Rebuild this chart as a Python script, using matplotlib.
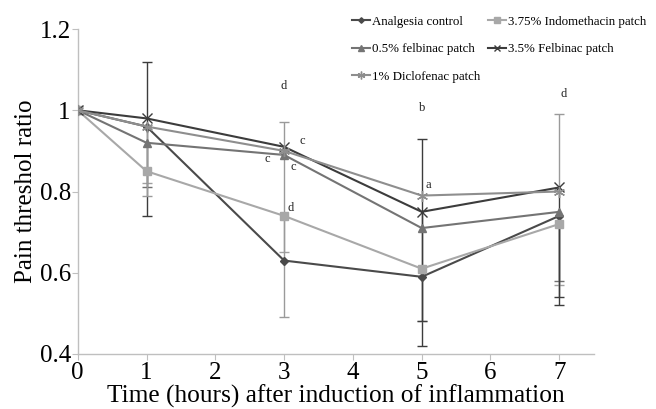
import numpy as np
import matplotlib
matplotlib.use("Agg")
import matplotlib.pyplot as plt

plt.rcParams['font.family'] = ['Liberation Serif', 'DejaVu Serif']

hours = np.array([0, 1, 3, 5, 7])
series_names = ["Analgesia control", "3.75% Indomethacin patch",
                "0.5% felbinac patch", "3.5% Felbinac patch",
                "1% Diclofenac patch"]
analgesia = np.array([1.0, 0.96, 0.63, 0.59, 0.74])
indomethacin = np.array([1.0, 0.85, 0.74, 0.61, 0.72])
felbinac05 = np.array([1.0, 0.92, 0.89, 0.71, 0.75])
felbinac35 = np.array([1.0, 0.98, 0.91, 0.75, 0.81])
diclofenac = np.array([1.0, 0.96, 0.90, 0.79, 0.80])

# error bars (lower, upper)
analgesia_lo = np.array([0, 0.22, 0, 0.17, 0.22])
analgesia_hi = np.array([0, 0.16, 0, 0.34, 0])
indomethacin_lo = np.array([0, 0.03, 0.09, 0.13, 0.15])
indomethacin_hi = np.array([0, 0, 0, 0, 0])
felbinac05_lo = np.array([0, 0.11, 0, 0, 0.17])
felbinac05_hi = np.array([0, 0, 0, 0, 0])
felbinac35_lo = np.array([0, 0, 0, 0.27, 0.27])
felbinac35_hi = np.array([0, 0, 0, 0, 0])
diclofenac_lo = np.array([0, 0.17, 0.41, 0, 0])
diclofenac_hi = np.array([0, 0, 0.07, 0, 0.19])

annot_letters = ["d", "c", "c", "c", "d", "b", "a", "d"]
annot_x = [3.0, 3.27, 2.75, 3.13, 3.1, 5.01, 5.09, 7.07]
annot_y = [1.06, 0.925, 0.88, 0.86, 0.76, 1.005, 0.815, 1.04]

colors = ["#4a4a4a", "#a8a8a8", "#747474", "#3c3c3c", "#8e8e8e"]
markers = ["D", "s", "^", "x", (6, 2, 0)]
msizes = [4, 6, 6, 7, 8]
err_colors = ["#3c3c3c", "#a0a0a0", "#707070", "#3c3c3c", "#9a9a9a"]

data = [analgesia, indomethacin, felbinac05, felbinac35, diclofenac]
los = [analgesia_lo, indomethacin_lo, felbinac05_lo, felbinac35_lo, diclofenac_lo]
his = [analgesia_hi, indomethacin_hi, felbinac05_hi, felbinac35_hi, diclofenac_hi]

fig = plt.figure(figsize=(6.56, 4.09), dpi=100)
ax = fig.add_axes([0.1185, 0.1345, 0.7865, 0.7945])

for y, lo, hi, ec in zip(data, los, his, err_colors):
    m = (lo > 0) | (hi > 0)
    ax.vlines(hours[m], (y - lo)[m], (y + hi)[m], color=ec, lw=1.0, zorder=1)
    ml = lo > 0
    ax.plot(hours[ml], (y - lo)[ml], ls='none', marker='_', ms=7, mew=1.0, color=ec, zorder=1)
    mh = hi > 0
    ax.plot(hours[mh], (y + hi)[mh], ls='none', marker='_', ms=7, mew=1.0, color=ec, zorder=1)

handles = []
for y, name, c, mk, ms in zip(data, series_names, colors, markers, msizes):
    h, = ax.plot(hours, y, color=c, lw=1.5, marker=mk, ms=ms, mew=1.0,
                 mfc=c, mec=c, label=name, zorder=3)
    handles.append(h)

for t, xx, yy in zip(annot_letters, annot_x, annot_y):
    ax.text(xx, yy, t, fontsize=9, ha='center', va='center', color='#222222')

ax.set_xlim(0, 7.5)
ax.set_ylim(0.4, 1.2)
ax.set_xticks(range(0, 8))
ax.set_yticks([0.4, 0.6, 0.8, 1.0, 1.2])
ax.set_yticklabels(["0.4", "0.6", "0.8", "1", "1.2"])
ax.tick_params(labelsize=18, length=4, width=0.8, color='#bfbfbf')
ax.tick_params(axis='x', pad=2)
ax.tick_params(axis='y', pad=1)
for s in ['top', 'right']:
    ax.spines[s].set_visible(False)
for s in ['left', 'bottom']:
    ax.spines[s].set_color('#bfbfbf')
    ax.spines[s].set_linewidth(1.0)

ax.set_xlabel("Time (hours) after induction of inflammation", fontsize=18.3, labelpad=0)
ax.set_ylabel("Pain threshol ratio", fontsize=18, labelpad=2)

order = [0, 2, 4, 1, 3]
fig.legend([handles[i] for i in order], [series_names[i] for i in order],
           loc='upper left', bbox_to_anchor=(0.519, 0.99),
           ncol=2, frameon=False, fontsize=9.3, handlelength=1.35, handletextpad=0.2,
           columnspacing=0.6, labelspacing=1.2, markerscale=0.7)

fig.savefig("out.png", dpi=100)
